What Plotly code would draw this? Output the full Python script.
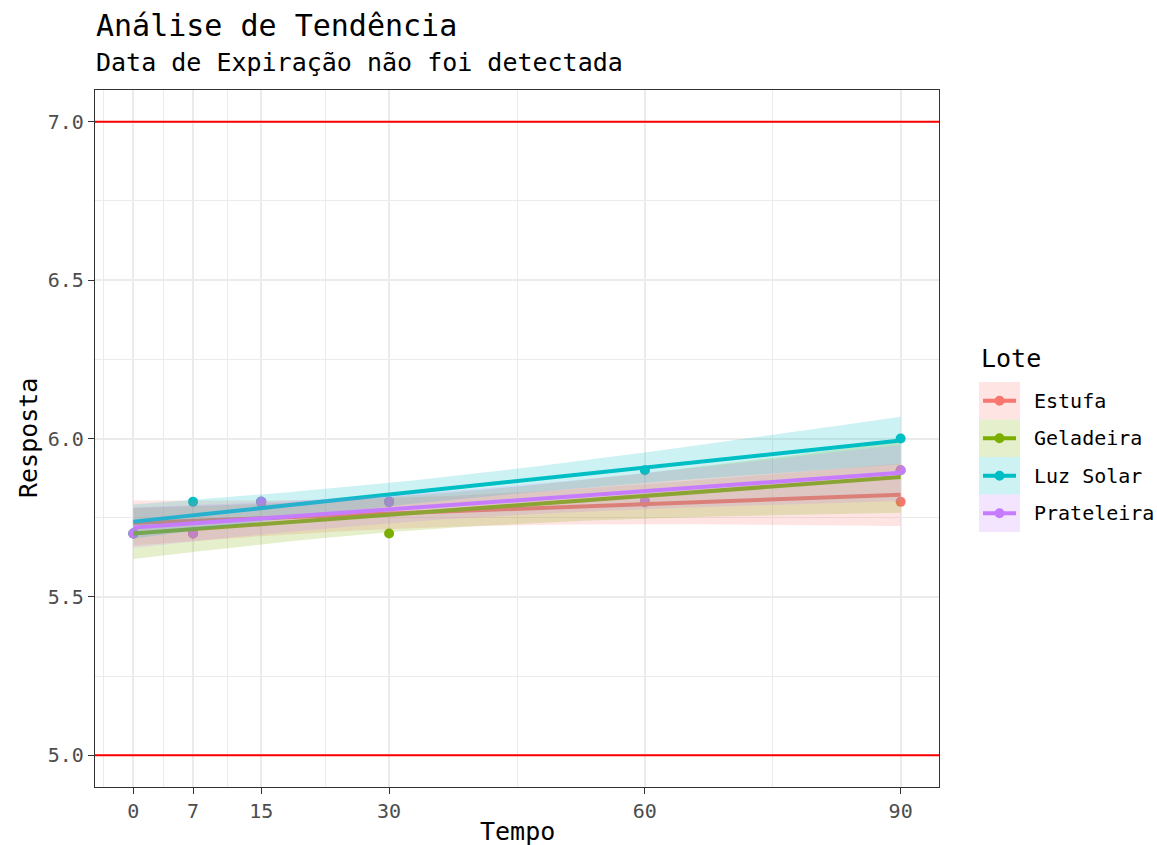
import numpy as np
import plotly.graph_objects as go

# ---------------- data ----------------
tempo = [0, 7, 15, 30, 60, 90]
lotes = ["Estufa", "Geladeira", "Luz Solar", "Prateleira"]
estufa = [5.7, 5.7, 5.8, 5.8, 5.8, 5.8]
geladeira = [5.7, 5.7, 5.8, 5.7, 5.8, 5.9]
luz_solar = [5.7, 5.8, 5.8, 5.8, 5.9, 6.0]
prateleira = [5.7, 5.7, 5.8, 5.8, 5.8, 5.9]
cores = ["#F8766D", "#7CAE00", "#00BFC4", "#C77CFF"]
limites = [5.0, 7.0]
x_ticks = [0, 7, 15, 30, 60, 90]
y_ticks = [5.0, 5.5, 6.0, 6.5, 7.0]

series = [estufa, geladeira, luz_solar, prateleira]

FONT = "DejaVu Sans Mono"
W, H = 1157, 845
L, R, T, B = 95, 939, 90, 787  # panel pixel box


def px(xp):
    return (xp - L) / (R - L)


def py(yp):
    return (B - yp) / (B - T)


def rgba(hexc, a):
    h = hexc.lstrip("#")
    r, g, b = int(h[0:2], 16), int(h[2:4], 16), int(h[4:6], 16)
    return f"rgba({r},{g},{b},{a})"


def lm_fit(x, y):
    x = np.asarray(x, float)
    y = np.asarray(y, float)
    n = len(x)
    b, a = np.polyfit(x, y, 1)
    xs = np.linspace(x.min(), x.max(), 80)
    yhat = a + b * xs
    resid = y - (a + b * x)
    s = np.sqrt((resid ** 2).sum() / (n - 2))
    sxx = ((x - x.mean()) ** 2).sum()
    se = s * np.sqrt(1.0 / n + (xs - x.mean()) ** 2 / sxx)
    tq = 2.776445  # qt(0.975, df = n - 2 = 4)
    return xs, yhat, yhat - tq * se, yhat + tq * se


fig = go.Figure()

# points first (ggplot layer order: geom_point then geom_smooth)
for nome, vals, cor in zip(lotes, series, cores):
    fig.add_trace(go.Scatter(x=tempo, y=vals, mode="markers",
                             marker=dict(color=cor, size=10, line=dict(width=0)),
                             showlegend=False, hoverinfo="skip"))

# ribbon + line per group
for nome, vals, cor in zip(lotes, series, cores):
    xs, yhat, lo, hi = lm_fit(tempo, vals)
    fig.add_trace(go.Scatter(x=np.concatenate([xs, xs[::-1]]),
                             y=np.concatenate([hi, lo[::-1]]),
                             fill="toself", fillcolor=rgba(cor, 0.2),
                             line=dict(width=0), mode="lines",
                             showlegend=False, hoverinfo="skip"))
    fig.add_trace(go.Scatter(x=xs, y=yhat, mode="lines",
                             line=dict(color=cor, width=4),
                             showlegend=False, hoverinfo="skip"))

# horizontal limit lines
shapes = []
for lim in limites:
    shapes.append(dict(type="line", xref="x domain", x0=0, x1=1, yref="y",
                       y0=lim, y1=lim, line=dict(color="#FF0000", width=2),
                       layer="above"))

# minor breaks (ggplot style)
def minor_breaks(b):
    b = list(b)
    ext = [b[0] - (b[1] - b[0])] + b + [b[-1] + (b[-1] - b[-2])]
    return [(ext[i] + ext[i + 1]) / 2 for i in range(len(ext) - 1)]

x_minor = minor_breaks(x_ticks)
y_minor = minor_breaks(y_ticks)

# manual legend
annotations = []
key_top = 382
key_h = 37.5
key_x0, key_x1 = 979, 1020
annotations.append(dict(text="Lote", xref="paper", yref="paper", x=px(979), y=py(358),
                        xanchor="left", yanchor="middle", showarrow=False,
                        font=dict(family=FONT, size=25, color="#000000")))
for i, (nome, cor) in enumerate(zip(lotes, cores)):
    y0 = key_top + i * key_h
    y1 = y0 + key_h
    yc = (y0 + y1) / 2
    shapes.append(dict(type="rect", xref="paper", yref="paper",
                       x0=px(key_x0), x1=px(key_x1), y0=py(y1), y1=py(y0),
                       fillcolor=rgba(cor, 0.2), line=dict(width=0), layer="above"))
    shapes.append(dict(type="line", xref="paper", yref="paper",
                       x0=px(983), x1=px(1016), y0=py(yc), y1=py(yc),
                       line=dict(color=cor, width=4), layer="above"))
    shapes.append(dict(type="circle", xref="paper", yref="paper",
                       x0=px(999.5 - 5), x1=px(999.5 + 5), y0=py(yc + 5), y1=py(yc - 5),
                       fillcolor=cor, line=dict(width=0), layer="above"))
    annotations.append(dict(text=nome, xref="paper", yref="paper", x=px(1032), y=py(yc),
                            xanchor="left", yanchor="middle", showarrow=False,
                            font=dict(family=FONT, size=20, color="#000000")))

# titles
annotations.append(dict(text="Análise de Tendência", xref="paper", yref="paper",
                        x=px(94), y=py(25), xanchor="left", yanchor="middle",
                        showarrow=False, font=dict(family=FONT, size=30, color="#000000")))
annotations.append(dict(text="Data de Expiração não foi detectada", xref="paper", yref="paper",
                        x=px(94), y=py(63), xanchor="left", yanchor="middle",
                        showarrow=False, font=dict(family=FONT, size=25, color="#000000")))
annotations.append(dict(text="Tempo", xref="paper", yref="paper",
                        x=px(517), y=py(831), xanchor="center", yanchor="middle",
                        showarrow=False, font=dict(family=FONT, size=25, color="#000000")))
annotations.append(dict(text="Resposta", xref="paper", yref="paper",
                        x=px(28), y=py(438), xanchor="center", yanchor="middle",
                        textangle=-90, showarrow=False,
                        font=dict(family=FONT, size=25, color="#000000")))

grid_major = "#EBEBEB"
axis_common = dict(showline=True, mirror=True, linecolor="#333333", linewidth=1.3,
                   ticks="outside", ticklen=6, tickwidth=1.3, tickcolor="#333333",
                   zeroline=False, showgrid=True, gridcolor=grid_major, gridwidth=2,
                   tickfont=dict(family=FONT, size=20, color="#4D4D4D"))

fig.update_layout(
    width=W, height=H,
    margin=dict(l=L, r=W - R, t=T, b=H - B, pad=0),
    paper_bgcolor="white", plot_bgcolor="white",
    showlegend=False,
    shapes=shapes, annotations=annotations,
    xaxis=dict(range=[-4.5, 94.5], tickvals=x_ticks, ticktext=[str(v) for v in x_ticks],
               minor=dict(tickvals=x_minor, showgrid=True, gridcolor=grid_major,
                          gridwidth=1, ticks=""),
               **axis_common),
    yaxis=dict(range=[4.9, 7.1], tickvals=y_ticks, ticktext=[f"{v:.1f}" for v in y_ticks],
               minor=dict(tickvals=y_minor, showgrid=True, gridcolor=grid_major,
                          gridwidth=1, ticks=""),
               **axis_common),
)

fig.write_html("out.html")
